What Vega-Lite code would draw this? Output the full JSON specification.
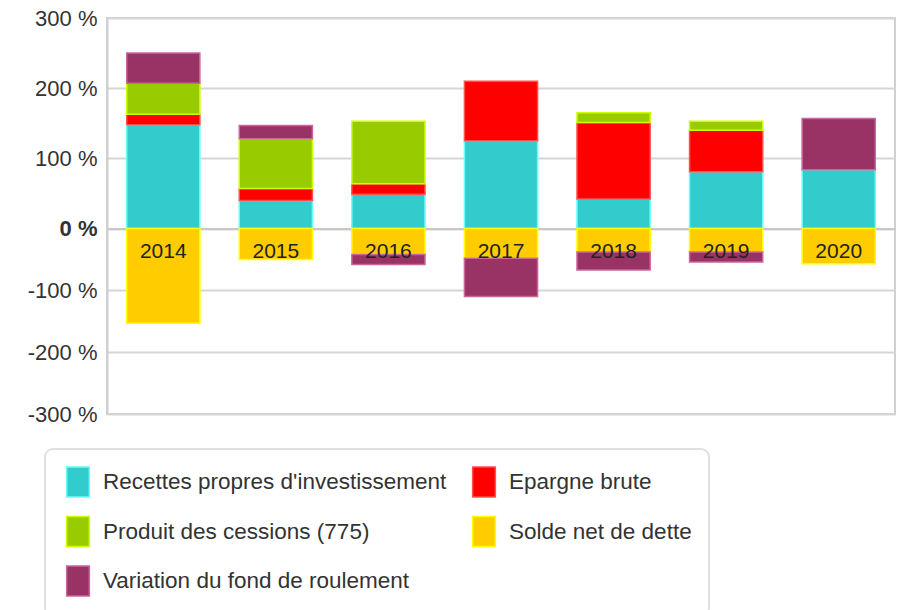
{
  "$schema": "https://vega.github.io/schema/vega-lite/v6.json",
  "width": 788,
  "height": 396,
  "autosize": {"type": "none"},
  "padding": {"left": 107, "top": 18, "right": 10, "bottom": 196},
  "background": "white",
  "config": {
    "font": "Liberation Sans",
    "view": {"stroke": "#D0D0D0", "strokeWidth": 2}
  },
  "data": {
    "values": [
      {"year": "2014", "series": "Recettes propres d'investissement", "value": 148},
      {"year": "2014", "series": "Epargne brute", "value": 15},
      {"year": "2014", "series": "Produit des cessions (775)", "value": 44},
      {"year": "2014", "series": "Solde net de dette", "value": -153},
      {"year": "2014", "series": "Variation du fond de roulement", "value": 43},
      {"year": "2015", "series": "Recettes propres d'investissement", "value": 40},
      {"year": "2015", "series": "Epargne brute", "value": 17},
      {"year": "2015", "series": "Produit des cessions (775)", "value": 71},
      {"year": "2015", "series": "Solde net de dette", "value": -50},
      {"year": "2015", "series": "Variation du fond de roulement", "value": 19},
      {"year": "2016", "series": "Recettes propres d'investissement", "value": 49},
      {"year": "2016", "series": "Epargne brute", "value": 15},
      {"year": "2016", "series": "Produit des cessions (775)", "value": 89},
      {"year": "2016", "series": "Solde net de dette", "value": -42},
      {"year": "2016", "series": "Variation du fond de roulement", "value": -16},
      {"year": "2017", "series": "Recettes propres d'investissement", "value": 125},
      {"year": "2017", "series": "Epargne brute", "value": 85},
      {"year": "2017", "series": "Solde net de dette", "value": -48},
      {"year": "2017", "series": "Variation du fond de roulement", "value": -62},
      {"year": "2018", "series": "Recettes propres d'investissement", "value": 42},
      {"year": "2018", "series": "Epargne brute", "value": 109},
      {"year": "2018", "series": "Produit des cessions (775)", "value": 14},
      {"year": "2018", "series": "Solde net de dette", "value": -38},
      {"year": "2018", "series": "Variation du fond de roulement", "value": -29},
      {"year": "2019", "series": "Recettes propres d'investissement", "value": 81},
      {"year": "2019", "series": "Epargne brute", "value": 59},
      {"year": "2019", "series": "Produit des cessions (775)", "value": 13},
      {"year": "2019", "series": "Solde net de dette", "value": -38},
      {"year": "2019", "series": "Variation du fond de roulement", "value": -16},
      {"year": "2020", "series": "Recettes propres d'investissement", "value": 84},
      {"year": "2020", "series": "Solde net de dette", "value": -57},
      {"year": "2020", "series": "Variation du fond de roulement", "value": 73}
    ]
  },
  "transform": [
    {"calculate": "indexof(['Recettes propres d\\'investissement','Epargne brute','Produit des cessions (775)','Solde net de dette','Variation du fond de roulement'], datum.series)", "as": "ord"}
  ],
  "layer": [
    {
      "mark": {"type": "bar", "strokeWidth": 1.5},
      "encoding": {
        "x": {
          "field": "year", "type": "nominal",
          "scale": {"paddingInner": 0.35, "paddingOuter": 0.175},
          "axis": {
            "orient": "top", "offset": -210.6, "title": null, "labels": false,
            "bandPosition": 0, "ticks": true, "tickSize": 5, "tickColor": "#C8C8C8", "tickWidth": 1,
            "domain": true, "domainColor": "#C8C8C8", "domainWidth": 2, "grid": false
          }
        },
        "y": {
          "field": "value", "type": "quantitative", "stack": "zero",
          "scale": {"domain": [-300, 0, 300], "range": [396, 210.6, 0], "nice": false, "zero": false},
          "axis": {
            "title": null, "values": [-300, -200, -100, 0, 100, 200, 300],
            "labelExpr": "datum.value + ' %'",
            "labelFontSize": 22, "labelColor": "#333333",
            "labelFontWeight": {"condition": {"test": "datum.value === 0", "value": "bold"}, "value": "normal"},
            "labelPadding": 10, "ticks": false,
            "domain": true, "domainColor": "#D0D0D0", "domainWidth": 2,
            "grid": true, "gridColor": "#D6D6D6", "gridWidth": 2
          }
        },
        "order": {"field": "ord", "type": "quantitative"},
        "fill": {
          "field": "series", "type": "nominal",
          "scale": {
            "domain": ["Recettes propres d'investissement", "Epargne brute", "Produit des cessions (775)", "Solde net de dette", "Variation du fond de roulement"],
            "range": ["#33CCCC", "#FF0000", "#99CC00", "#FFCC00", "#993366"]
          },
          "legend": {
            "title": null, "orient": "none", "legendX": -62, "legendY": 431, "direction": "horizontal",
            "columns": 2, "columnPadding": 21, "rowPadding": 13.5,
            "padding": 17, "strokeColor": "#E0E0E0", "cornerRadius": 8,
            "symbolType": "M-0.757,-1H0.757V1H-0.757Z", "symbolSize": 900, "symbolStrokeWidth": 1.5,
            "labelFontSize": 22.5, "labelColor": "#333333", "labelOffset": 9, "labelLimit": 600,
            "labelExpr": "datum.label === 'Solde net de dette' ? datum.label + '\u00a0\u00a0\u00a0\u00a0\u00a0\u00a0\u00a0\u00a0\u00a0\u00a0\u00a0\u00a0\u00a0\u00a0\u00a0\u00a0\u00a0\u00a0\u00a0\u00a0\u00a0\u00a0\u00a0\u00a0\u00a0\u00a0\u00a0' : datum.label",
            "encode": {"legend": {"update": {"strokeWidth": {"value": 2}}}}
          }
        },
        "stroke": {
          "field": "series", "type": "nominal",
          "scale": {
            "domain": ["Recettes propres d'investissement", "Epargne brute", "Produit des cessions (775)", "Solde net de dette", "Variation du fond de roulement"],
            "range": ["#66FFFF", "#FF5050", "#CCFF00", "#FFFF00", "#CC6699"]
          },
          "legend": {
            "title": null, "orient": "none", "legendX": -62, "legendY": 431, "direction": "horizontal",
            "columns": 2, "columnPadding": 21, "rowPadding": 13.5,
            "padding": 17, "strokeColor": "#E0E0E0", "cornerRadius": 8,
            "symbolType": "M-0.757,-1H0.757V1H-0.757Z", "symbolSize": 900, "symbolStrokeWidth": 1.5,
            "labelFontSize": 22.5, "labelColor": "#333333", "labelOffset": 9, "labelLimit": 600,
            "labelExpr": "datum.label === 'Solde net de dette' ? datum.label + '\u00a0\u00a0\u00a0\u00a0\u00a0\u00a0\u00a0\u00a0\u00a0\u00a0\u00a0\u00a0\u00a0\u00a0\u00a0\u00a0\u00a0\u00a0\u00a0\u00a0\u00a0\u00a0\u00a0\u00a0\u00a0\u00a0\u00a0' : datum.label",
            "encode": {"legend": {"update": {"strokeWidth": {"value": 2}}}}
          }
        }
      }
    },
    {
      "transform": [{"filter": "datum.series === 'Solde net de dette'"}],
      "mark": {"type": "text", "fontSize": 21, "color": "#222222", "baseline": "middle", "dy": 23},
      "encoding": {
        "x": {"field": "year", "type": "nominal"},
        "y": {"datum": 0},
        "text": {"field": "year", "type": "nominal"}
      }
    }
  ]
}
